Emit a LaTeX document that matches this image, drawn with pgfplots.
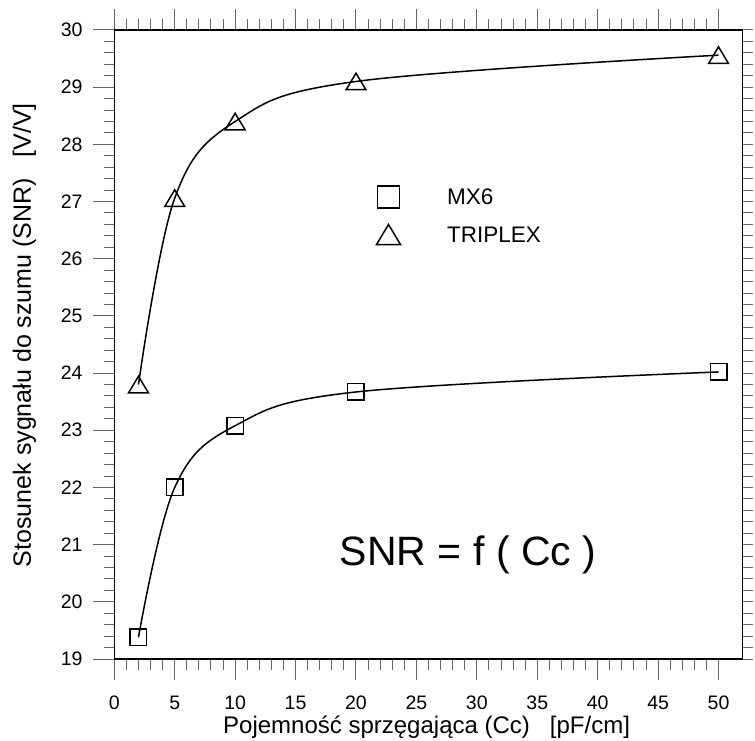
\documentclass[border=0pt]{standalone}
\usepackage{fontspec}
\setmainfont{Liberation Sans}
\usepackage{pgfplots}
\usepackage{pgfplotstable}
\pgfplotsset{compat=1.18}

\pgfdeclareplotmark{tri}{%
  \pgfpathmoveto{\pgfqpoint{0pt}{0.92\pgfplotmarksize}}%
  \pgfpathlineto{\pgfqpoint{1.1\pgfplotmarksize}{-0.92\pgfplotmarksize}}%
  \pgfpathlineto{\pgfqpoint{-1.1\pgfplotmarksize}{-0.92\pgfplotmarksize}}%
  \pgfpathclose
  \pgfusepathqstroke}

\pgfplotstableread{
x y
2 19.38
5 22.00
10 23.08
20 23.67
50 24.02
}\mxsix

\pgfplotstableread{
x y
2 23.80
5 27.06
10 28.40
20 29.10
50 29.56
}\triplex

\begin{document}
\begin{tikzpicture}
\pgfplotsset{
  common/.style={
    at={(0,0)}, anchor=south west,
    scale only axis, width=628.4pt, height=629pt,
    xmin=0, xmax=52, ymin=19, ymax=30,
    tick align=outside,
    axis line style={line width=1.3pt},
    major tick style={black!60, line width=1pt},
    minor tick style={black!60, line width=1pt},
  }
}
\begin{axis}[
  common,
  xtick={0,5,...,50}, ytick={19,20,...,30},
  minor x tick num=4, minor y tick num=4,
  xtick pos=both, ytick pos=left,
  xticklabel pos=bottom,
  major tick length=21pt, minor tick length=10.7pt,
  /pgf/number format/assume math mode=true,
  tick label style={font=\fontsize{19.5}{19.5}\selectfont},
  xticklabel style={anchor=north, inner sep=0pt, yshift=-16pt},
  yticklabel style={anchor=east, inner sep=0pt, xshift=-10.6pt},
  xlabel={Pojemność sprzęgająca (Cc)~~~[pF/cm]},
  ylabel={Stosunek sygnału do szumu (SNR)~~~[V/V]},
  xlabel style={font=\fontsize{24}{24}\selectfont, at={(axis description cs:0.497,0)}, anchor=base, yshift=-74pt},
  ylabel style={font=\fontsize{25}{25}\selectfont, at={(axis description cs:-0.1326,0.515)}, anchor=base},
  legend cell align=left,
  legend style={draw=none, fill=none, inner sep=0pt, outer sep=0pt,
    at={(0.4171,0.7523)}, anchor=north west,
    row sep=16.7pt, column sep=0pt,
    font=\fontsize{22.5}{22.5}\selectfont,
    nodes={inner sep=0pt, outer sep=0pt, text height=17pt, text depth=1pt}},
  /tikz/every even column/.append style={column sep=0pt},
  /tikz/every odd column/.append style={column sep=46.5pt},
  legend image code/.code={\draw[#1, mark size=11pt] plot coordinates {(0pt,0pt)};},
]
\addplot[smooth, tension=0.6, black, line width=1.5pt, forget plot] table {\mxsix};
\addplot[smooth, tension=0.6, black, line width=1.5pt, forget plot] table {\triplex};
\addplot[only marks, mark=square, mark size=8.25pt, line width=1.5pt, black] table {\mxsix};
\addlegendentry{MX6}
\addplot[only marks, mark=tri, mark size=9pt, line width=1.5pt, black, mark options={line join=miter}] table {\triplex};
\addlegendentry{TRIPLEX}
\node[font=\fontsize{41}{41}\selectfont, anchor=base] at (rel axis cs:0.563,0.1494) {SNR = f ( Cc )};
\end{axis}
\begin{axis}[
  common,
  hide x axis,
  axis y line*=right,
  ytick={19,20,...,30}, minor y tick num=4,
  ytick pos=right, yticklabels={},
  major tick length=10.7pt, minor tick length=10.7pt,
]
\addplot[draw=none, forget plot] coordinates {(0,19)};
\end{axis}
\pgfresetboundingbox
\path[use as bounding box] (-114.3pt,-81pt) rectangle (640.7pt,659pt);
\end{tikzpicture}
\end{document}
